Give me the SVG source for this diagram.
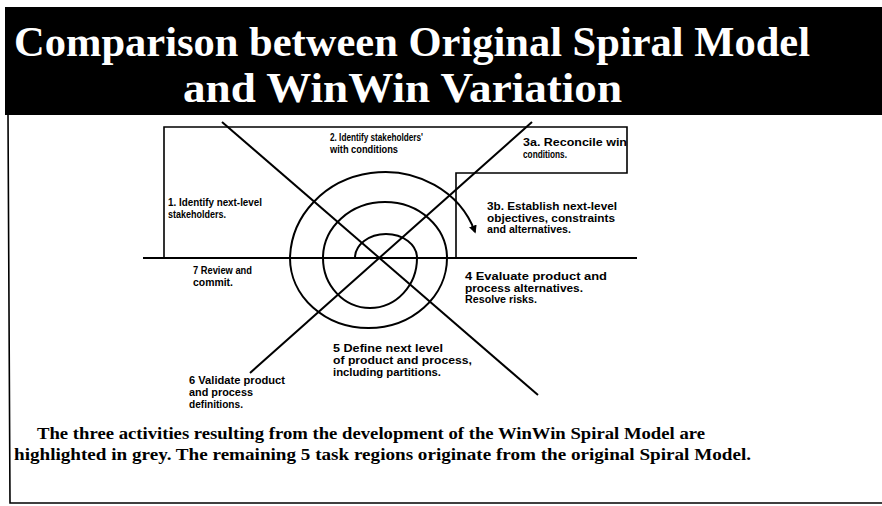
<svg xmlns="http://www.w3.org/2000/svg" width="882" height="506" viewBox="0 0 882 506">
<style>
.title{font-family:"Liberation Serif","Times New Roman",serif;font-weight:bold;font-size:43px;fill:#fff}
.lbl{font-family:"Liberation Sans",Arial,sans-serif;font-weight:bold;font-size:10.8px;fill:#000}
.cap{font-family:"Liberation Serif","Times New Roman",serif;font-weight:bold;font-size:17px;fill:#000}
.ln{fill:none;stroke:#000;stroke-width:2}
.thin{fill:none;stroke:#000;stroke-width:1.6}
</style>
<defs>
<marker id="ah" viewBox="0 0 10 10" refX="8" refY="5" markerWidth="8" markerHeight="8" orient="auto" markerUnits="userSpaceOnUse"><path d="M0,0 L10,5 L0,10 z" fill="#000"/></marker>
</defs>
<rect width="882" height="506" fill="#fff"/>
<g id="title">
<rect x="5" y="7" width="877" height="108" fill="#000"/>
<text class="title" x="14" y="56" textLength="796" lengthAdjust="spacingAndGlyphs">Comparison between Original Spiral Model</text>
<text class="title" x="183" y="102" textLength="439" lengthAdjust="spacingAndGlyphs">and WinWin Variation</text>
</g>
<g id="frame">
<path class="thin" d="M8,115 L10,503 L882,503"/>
</g>
<g id="connectors">
<path id="regions" class="thin" d="M164,258 L164,127 L627,127 L627,173 L456,173 L456,258"/>
<path id="axis" class="ln" d="M143,258 L637,258"/>
<path id="diag1" class="ln" d="M222,122 L538,395"/>
<path id="diag2" class="ln" d="M532,122 L250,373"/>
<path id="spiral" class="ln" d="M355,258 A31,24 0 0 1 417,258 A47,50 0 0 1 323,258 A62,56 0 0 1 447,258 A78.5,70 0 0 1 290,258 A95,88 0 0 1 475,232" marker-end="url(#ah)"/>
</g>
<g id="n1"><text class="lbl" x="168" y="206" textLength="94" lengthAdjust="spacingAndGlyphs">1. Identify next-level</text><text class="lbl" x="168" y="218" textLength="58" lengthAdjust="spacingAndGlyphs">stakeholders.</text></g>
<g id="n2"><text class="lbl" x="330" y="141" textLength="93" lengthAdjust="spacingAndGlyphs">2. Identify stakeholders'</text><text class="lbl" x="330" y="153" textLength="68" lengthAdjust="spacingAndGlyphs">with conditions</text></g>
<g id="n3a"><text class="lbl" x="523" y="146" textLength="104" lengthAdjust="spacingAndGlyphs">3a. Reconcile win</text><text class="lbl" x="523" y="158" textLength="44" lengthAdjust="spacingAndGlyphs">conditions.</text></g>
<g id="n3b"><text class="lbl" x="487" y="210" textLength="130" lengthAdjust="spacingAndGlyphs">3b. Establish next-level</text><text class="lbl" x="487" y="222" textLength="128" lengthAdjust="spacingAndGlyphs">objectives, constraints</text><text class="lbl" x="487" y="233" textLength="84" lengthAdjust="spacingAndGlyphs">and alternatives.</text></g>
<g id="n4"><text class="lbl" x="465" y="280" textLength="142" lengthAdjust="spacingAndGlyphs">4 Evaluate product and</text><text class="lbl" x="465" y="292" textLength="118" lengthAdjust="spacingAndGlyphs">process alternatives.</text><text class="lbl" x="465" y="303" textLength="72" lengthAdjust="spacingAndGlyphs">Resolve risks.</text></g>
<g id="n5"><text class="lbl" x="333" y="352" textLength="110" lengthAdjust="spacingAndGlyphs">5 Define next level</text><text class="lbl" x="333" y="364" textLength="139" lengthAdjust="spacingAndGlyphs">of product and process,</text><text class="lbl" x="333" y="376" textLength="108" lengthAdjust="spacingAndGlyphs">including partitions.</text></g>
<g id="n6"><text class="lbl" x="189" y="384" textLength="96" lengthAdjust="spacingAndGlyphs">6 Validate product</text><text class="lbl" x="189" y="396" textLength="64" lengthAdjust="spacingAndGlyphs">and process</text><text class="lbl" x="189" y="408" textLength="54" lengthAdjust="spacingAndGlyphs">definitions.</text></g>
<g id="n7"><text class="lbl" x="193" y="274" textLength="59" lengthAdjust="spacingAndGlyphs">7 Review and</text><text class="lbl" x="193" y="286" textLength="40" lengthAdjust="spacingAndGlyphs">commit.</text></g>
<g id="caption">
<text class="cap" x="37" y="439" textLength="668" lengthAdjust="spacingAndGlyphs">The three activities resulting from the development of the WinWin Spiral Model are</text>
<text class="cap" x="14" y="460" textLength="737" lengthAdjust="spacingAndGlyphs">highlighted in grey. The remaining 5 task regions originate from the original Spiral Model.</text>
</g>
</svg>
